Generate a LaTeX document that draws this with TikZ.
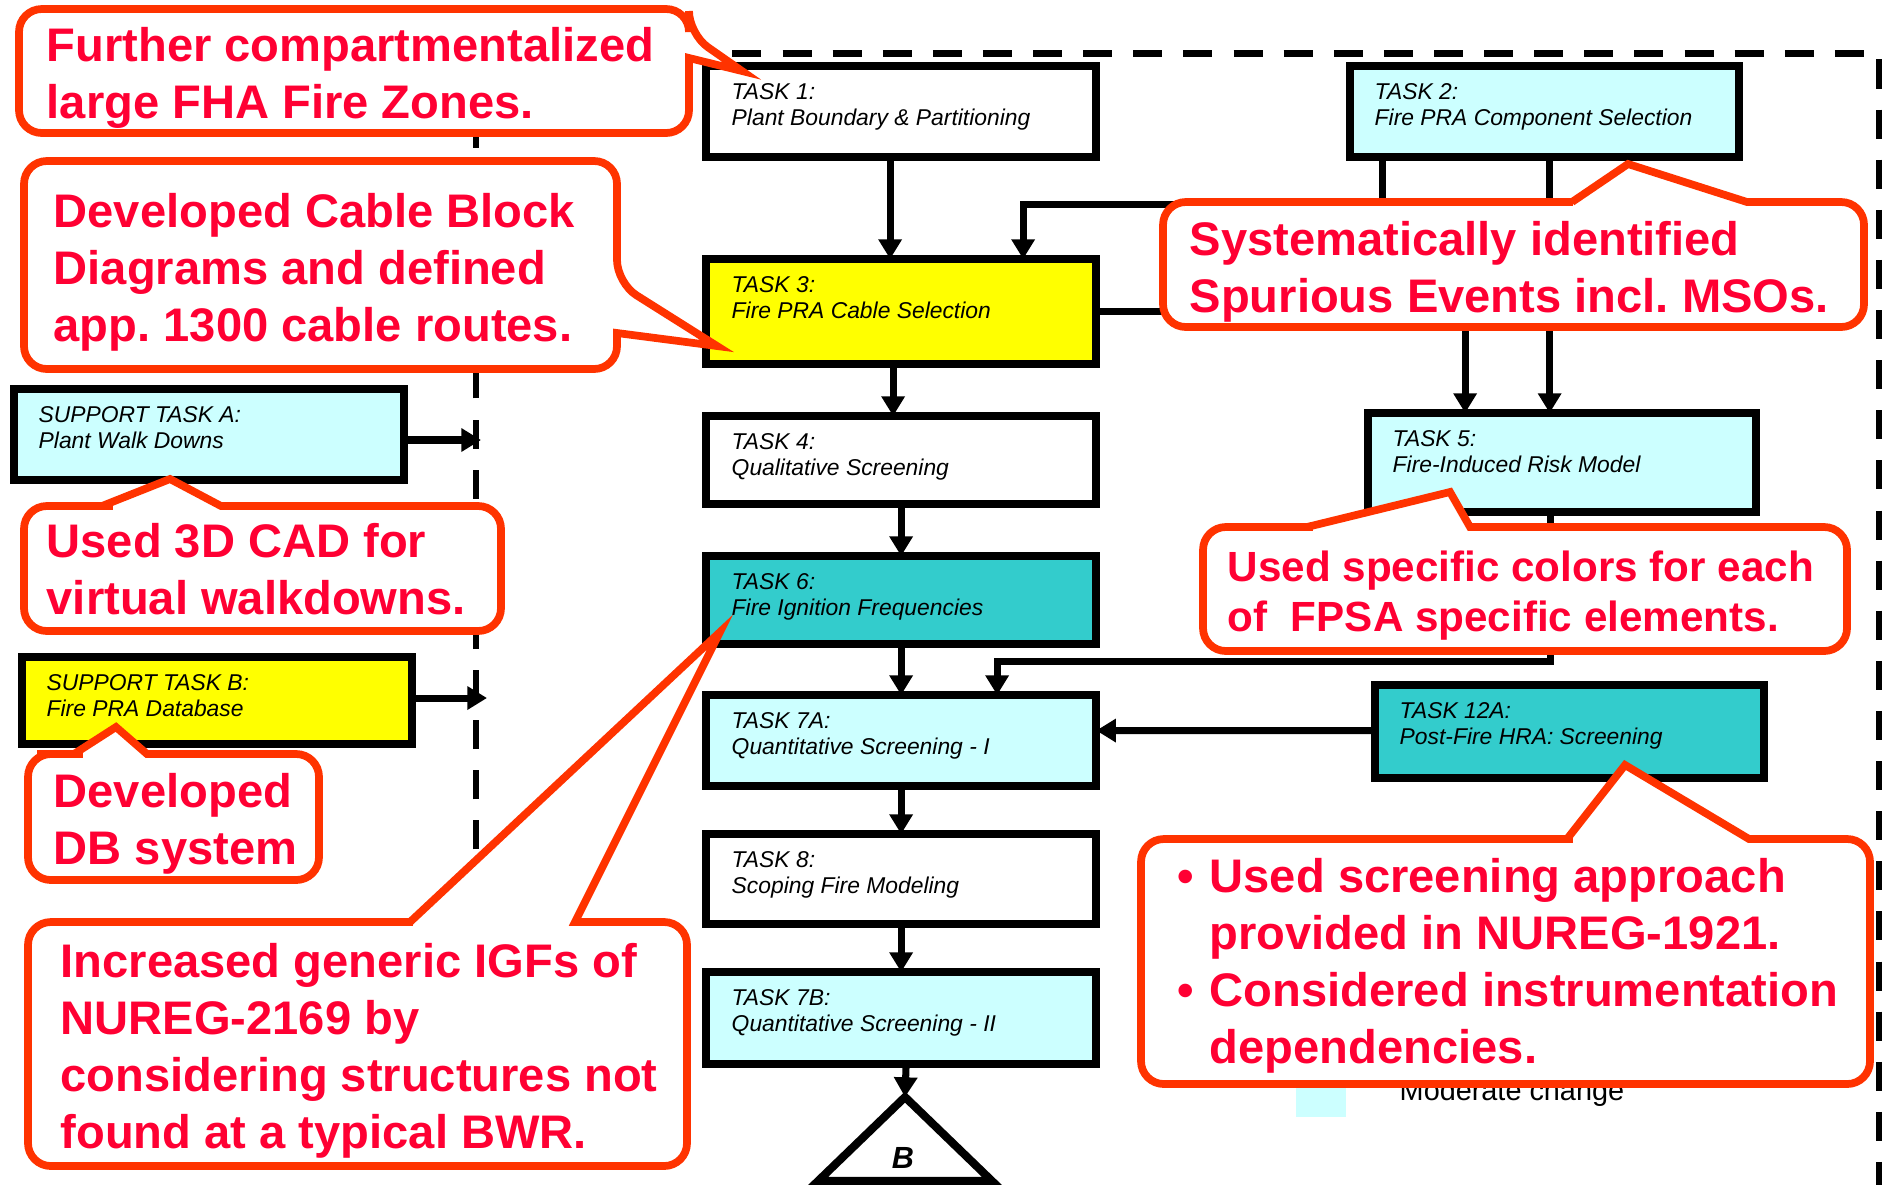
\documentclass[tikz,border=0pt]{standalone}
\usepackage{fontspec}
\setmainfont{Liberation Sans}
\usepackage{tikz}
\usetikzlibrary{arrows.meta}
\frenchspacing

\definecolor{cyanpale}{HTML}{CCFFFF}
\definecolor{cyandeep}{HTML}{33CCCC}
\definecolor{yellowfill}{HTML}{FFFF00}
\definecolor{noteline}{HTML}{FF3300}
\definecolor{notered}{HTML}{FF0033}

\tikzset{
  taskbox/.style={draw, line width=2.3pt, outer sep=0pt, inner sep=0pt, minimum width=3.9cm, anchor=north west},
  tasktext/.style={anchor=north west, inner sep=0pt, align=left, font=\fontsize{6.5}{7.3}\selectfont\itshape},
  flow/.style={line width=2pt, -{Triangle[length=5.6pt,width=6.4pt]}},
  frame/.style={line width=1.8pt, dash pattern=on 8.25pt off 6pt},
  callout/.style={draw=noteline, fill=white, line width=2.2pt, rounded corners=6.5pt},
  notetext/.style={anchor=north west, inner sep=0pt, align=left, text=notered, font=\fontsize{13.4}{16.2}\selectfont\bfseries}
}

\begin{document}
\begin{tikzpicture}[x=0.01cm, y=-0.01cm]
\useasboundingbox (0,0) rectangle (1883,1184);
\clip (0,0) rectangle (1883,1184);

\draw[frame] (476,1100) -- (476,53.5) -- (1879,53.5) -- (1879,1200);

\node[taskbox, minimum height=0.91cm] (t1) at (706,66) {};
\node[taskbox, minimum height=1.05cm, fill=yellowfill] (t3) at (706,259) {};
\node[taskbox, minimum height=0.88cm] (t4) at (706,416) {};
\node[taskbox, minimum height=0.88cm, fill=cyandeep] (t6) at (706,556) {};
\node[taskbox, minimum height=0.91cm, fill=cyanpale] (t7a) at (706,695) {};
\node[taskbox, minimum height=0.90cm] (t8) at (706,834) {};
\node[taskbox, minimum height=0.92cm, fill=cyanpale] (t7b) at (706,972) {};
\node[taskbox, minimum width=3.89cm, minimum height=0.91cm, fill=cyanpale] (t2) at (1350,66) {};
\node[taskbox, minimum width=3.88cm, minimum height=0.985cm, fill=cyanpale] (t5) at (1368,413) {};
\node[taskbox, minimum width=3.89cm, minimum height=0.93cm, fill=cyandeep] (t12a) at (1375,685) {};
\node[taskbox, minimum height=0.91cm, fill=cyanpale] (sa) at (14,389) {};
\node[taskbox, minimum height=0.87cm, fill=yellowfill] (sb) at (22,657) {};

\node[tasktext] (t1x) at ([shift={(25,17)}]t1.north west) {TASK 1:\\Plant Boundary \& Partitioning};
\node[tasktext] (t3x) at ([shift={(25,17)}]t3.north west) {TASK 3:\\Fire PRA Cable Selection};
\node[tasktext] (t4x) at ([shift={(25,17)}]t4.north west) {TASK 4:\\Qualitative Screening};
\node[tasktext] (t6x) at ([shift={(25,17)}]t6.north west) {TASK 6:\\Fire Ignition Frequencies};
\node[tasktext] (t7ax) at ([shift={(25,17)}]t7a.north west) {TASK 7A:\\Quantitative Screening - I};
\node[tasktext] (t8x) at ([shift={(25,17)}]t8.north west) {TASK 8:\\Scoping Fire Modeling};
\node[tasktext] (t7bx) at ([shift={(25,17)}]t7b.north west) {TASK 7B:\\Quantitative Screening - II};
\node[tasktext] (t2x) at ([shift={(24,17)}]t2.north west) {TASK 2:\\Fire PRA Component Selection};
\node[tasktext] (t5x) at ([shift={(24,17)}]t5.north west) {TASK 5:\\Fire-Induced Risk Model};
\node[tasktext] (t12ax) at ([shift={(24,17)}]t12a.north west) {TASK 12A:\\Post-Fire HRA: Screening};
\node[tasktext] (sax) at ([shift={(24,17)}]sa.north west) {SUPPORT TASK A:\\Plant Walk Downs};
\node[tasktext] (sbx) at ([shift={(24,17)}]sb.north west) {SUPPORT TASK B:\\Fire PRA Database};

\coordinate (t2r) at ([shift={(5,0)}]t2.south);
\coordinate (dashA) at (481,440);
\coordinate (dashB) at (487,698);
\coordinate (bapex) at (905,1097);

\draw[flow] ([shift={(-11,0)}]t1.south) -- ([shift={(-11,0)}]t3.north);
\draw[flow] ([shift={(-162,0)}]t2.south) -- ++(0,47) -| ([shift={(122,0)}]t3.north);
\draw[flow] (t2r) -- (t2r |- t5.north);
\draw[flow] (t3.east) -| ([shift={(-97,0)}]t5.north);
\draw[flow] ([shift={(-12,0)}]t5.south) -- ++(0,150) -| ([shift={(96,0)}]t7a.north);
\draw[flow] ([shift={(0,-1)}]t12a.west) -- ([shift={(0,-10)}]t7a.east);
\draw[flow] ([shift={(-8,0)}]t3.south) -- ([shift={(-8,0)}]t4.north);
\draw[flow] (t4.south) -- (t6.north);
\draw[flow] (t6.south) -- (t7a.north);
\draw[flow] (t7a.south) -- (t8.north);
\draw[flow] (t8.south) -- (t7b.north);
\draw[flow] ([shift={(5,0)}]t7b.south) -- (bapex);
\draw[flow] (sa.east |- dashA) -- (dashA);
\draw[flow] (sb.east |- dashB) -- (dashB);

\draw[line width=2.3pt] (bapex) -- (818,1181) -- (992,1181) -- cycle;
\node[inner sep=0pt, font=\fontsize{8.7}{10}\selectfont\bfseries\itshape] (blabel) at (903,1158) {B};

\fill[cyanpale] (1296,1070) rectangle (1346,1117);
\node[anchor=base west, inner sep=0pt, font=\fontsize{8.2}{10}\selectfont] (legend) at (1399,1100) {Moderate change};

\draw[callout] (354,9) -- (689,9) -- (689,34) [sharp corners] -- (742,71) -- (689,58) -- (689,95) [rounded corners=6.5pt] -- (689,133) -- (19,133) -- (19,9) -- cycle;
\node[notetext] (n1) at (46,27) {Further compartmentalized\\large FHA Fire Zones.};

\draw[callout] (320,161) -- (617,161) -- (617,283) [sharp corners] -- (717,346) -- (617,333) -- (617,342) [rounded corners=6.5pt] -- (617,369) -- (24,369) -- (24,161) -- cycle;
\node[notetext] (n2) at (53,193) {Developed Cable Block\\Diagrams and defined\\app. 1300 cable routes.};

\draw[callout] (24,570) -- (24,506) -- (90,506) [sharp corners] -- (102,506) -- (170,479) -- (221,506) -- (240,506) [rounded corners=6.5pt] -- (501,506) -- (501,631) -- (24,631) -- cycle;
\node[notetext] (n3) at (46,523) {Used 3D CAD for\\virtual walkdowns.};

\draw[callout] (28,820) -- (28,754) -- (60,754) [sharp corners] -- (74,754) -- (116,727) -- (147,754) -- (160,754) [rounded corners=6.5pt] -- (319,754) -- (319,880) -- (28,880) -- cycle;
\node[notetext] (n4) at (53,773) {Developed\\DB system};

\draw[callout] (28,1040) -- (28,922) -- (390,922) [sharp corners] -- (410,922) -- (720,632) -- (575,922) -- (600,922) [rounded corners=6.5pt] -- (687,922) -- (687,1166) -- (28,1166) -- cycle;
\node[notetext] (n5) at (60,943) {Increased generic IGFs of\\NUREG-2169 by\\considering structures not\\found at a typical BWR.};

\draw[callout] (1163,265) -- (1163,202) -- (1550,202) [sharp corners] -- (1572,202) -- (1628,164) -- (1747,202) -- (1770,202) [rounded corners=6.5pt] -- (1864,202) -- (1864,327) -- (1163,327) -- cycle;
\node[notetext] (n6) at (1189,221) {Systematically identified\\Spurious Events incl. MSOs.};

\draw[callout] (1203,590) -- (1203,527) -- (1290,527) [sharp corners] -- (1307,527) -- (1450,492) -- (1470,527) -- (1490,527) [rounded corners=6.5pt] -- (1847,527) -- (1847,651) -- (1203,651) -- cycle;
\node[notetext, font=\fontsize{12}{14.3}\selectfont\bfseries] (n7) at (1227,550) {Used specific colors for each\\of\ \ FPSA specific elements.};

\draw[callout] (1141,960) -- (1141,839) -- (1550,839) [sharp corners] -- (1567,839) -- (1625,765) -- (1749,839) -- (1770,839) [rounded corners=6.5pt] -- (1870,839) -- (1870,1084) -- (1141,1084) -- cycle;
\node[notetext] (n8) at (1177,858) {\makebox[0.32cm][l]{\textbullet}Used screening approach\\\hspace*{0.32cm}provided in NUREG-1921.\\\makebox[0.32cm][l]{\textbullet}Considered instrumentation\\\hspace*{0.32cm}dependencies.};
\end{tikzpicture}
\end{document}
